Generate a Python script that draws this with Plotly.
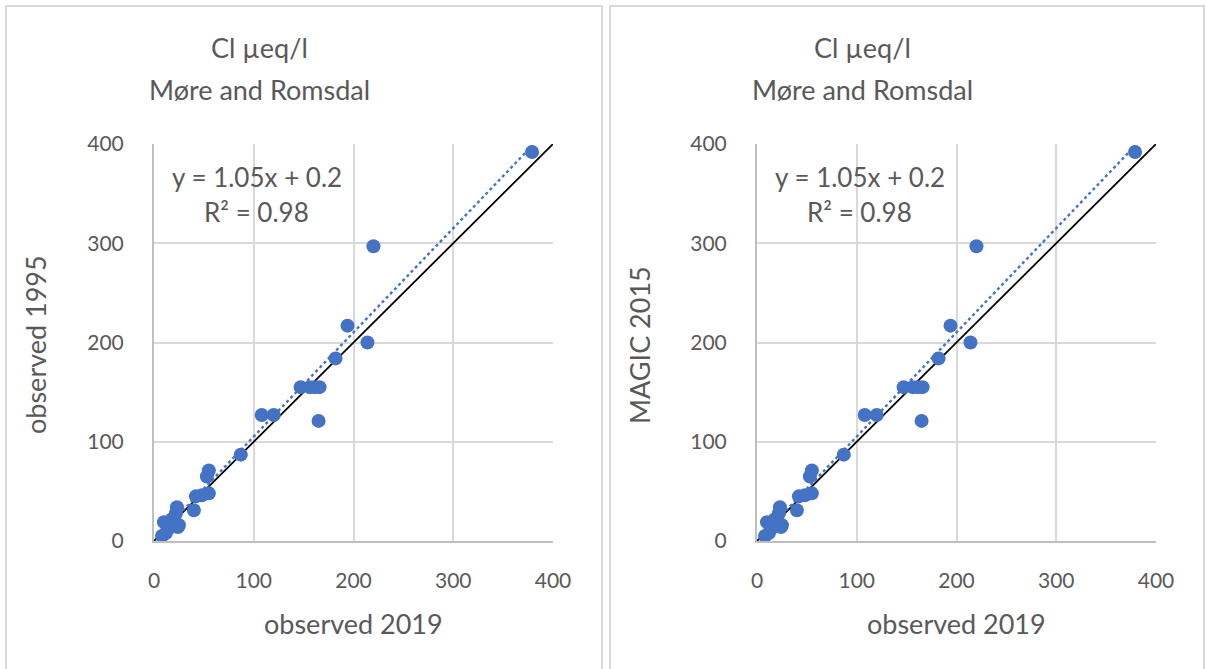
import plotly.graph_objects as go

# Cl concentrations (µeq/l), Møre and Romsdal lakes
observed_2019 = [8, 10, 12, 15, 18, 20, 22, 23, 25, 24, 40, 42, 48, 55, 53, 55,
                 87, 108, 120, 147, 156, 161, 166, 165, 182, 194, 214, 220, 379]
observed_1995 = [5, 19, 8, 13, 22, 17, 28, 34, 16, 14, 31, 45, 46, 48, 65, 71,
                 87, 127, 127, 155, 155, 155, 155, 121, 184, 217, 200, 297, 392]
magic_2015 = [5, 19, 8, 13, 22, 17, 28, 34, 16, 14, 31, 45, 46, 48, 65, 71,
              87, 127, 127, 155, 155, 155, 155, 121, 184, 217, 200, 297, 392]

# Linear trend shown on each panel
trend_slope = 1.05
trend_intercept = 0.2
r_squared = 0.98

tick_vals = [0, 100, 200, 300, 400]
title_lines = ["Cl µeq/l", "Møre and Romsdal"]
x_title = "observed 2019"
y_titles = ["observed 1995", "MAGIC 2015"]

W, H = 1206, 669
FONT = "Lato"
TXT = "#595959"
BLUE = "#4472C4"
GRID = "#d9d9d9"


def px(x):
    return x / W


def py(y):
    return 1 - y / H


fig = go.Figure()

panels = [
    dict(xa="x", ya="y", yvals=observed_1995, left=154, right=553, frame=(6, 602)),
    dict(xa="x2", ya="y2", yvals=magic_2015, left=757, right=1156, frame=(610, 1204)),
]

shapes = []
annotations = []

for i, p in enumerate(panels):
    xmin, xmax = min(observed_2019), max(observed_2019)
    # 1:1 reference line
    fig.add_trace(go.Scatter(x=[0, 400], y=[0, 400], mode="lines",
                             line=dict(color="black", width=1.8),
                             xaxis=p["xa"], yaxis=p["ya"], showlegend=False,
                             hoverinfo="skip"))
    # linear trendline
    fig.add_trace(go.Scatter(x=[xmin, xmax],
                             y=[trend_slope * xmin + trend_intercept,
                                trend_slope * xmax + trend_intercept],
                             mode="lines",
                             line=dict(color=BLUE, width=2.4, dash="dot"),
                             xaxis=p["xa"], yaxis=p["ya"], showlegend=False,
                             hoverinfo="skip"))
    # observations
    fig.add_trace(go.Scatter(x=observed_2019, y=p["yvals"], mode="markers",
                             marker=dict(color=BLUE, size=14),
                             xaxis=p["xa"], yaxis=p["ya"], showlegend=False))

    # panel frame
    f0, f1 = p["frame"]
    shapes.append(dict(type="rect", xref="paper", yref="paper",
                       x0=px(f0), x1=px(f1), y0=py(H + 10), y1=py(6),
                       line=dict(color=GRID, width=2), layer="below"))

    shift = p["left"] - 154
    # chart title
    for line_text, yy in zip(title_lines, (48, 90)):
        annotations.append(dict(x=px(259.5 + shift), y=py(yy), xref="paper", yref="paper",
                                text=line_text, showarrow=False,
                                font=dict(family=FONT, size=27, color=TXT),
                                xanchor="center", yanchor="middle"))
    # trend equation
    annotations.append(dict(x=px(256.5 + shift), y=py(177), xref="paper", yref="paper",
                            text=f"y = {trend_slope:.2f}x + {trend_intercept}",
                            showarrow=False,
                            font=dict(family=FONT, size=26, color=TXT),
                            xanchor="center", yanchor="middle"))
    annotations.append(dict(x=px(256 + shift), y=py(212), xref="paper", yref="paper",
                            text=f"R² = {r_squared:.2f}",
                            showarrow=False,
                            font=dict(family=FONT, size=26, color=TXT),
                            xanchor="center", yanchor="middle"))
    # axis titles
    annotations.append(dict(x=px(353 + shift), y=py(623), xref="paper", yref="paper",
                            text=x_title, showarrow=False,
                            font=dict(family=FONT, size=27, color=TXT),
                            xanchor="center", yanchor="middle"))
    annotations.append(dict(x=px(p["frame"][0] + 29), y=py(345), xref="paper", yref="paper",
                            text=y_titles[i], showarrow=False, textangle=-90,
                            font=dict(family=FONT, size=27, color=TXT),
                            xanchor="center", yanchor="middle"))

axis_common = dict(range=[0, 400], tickvals=tick_vals, showgrid=True,
                   gridcolor=GRID, gridwidth=2, zeroline=False,
                   showline=True, linecolor="#bfbfbf", linewidth=2,
                   ticks="", fixedrange=True, automargin=False,
                   tickfont=dict(family=FONT, size=21, color=TXT))

fig.update_layout(
    width=W, height=H, autosize=False,
    margin=dict(l=0, r=0, t=0, b=0, pad=0, autoexpand=False),
    paper_bgcolor="white", plot_bgcolor="white",
    xaxis=dict(domain=[px(154), px(553)], anchor="y", ticklabelstandoff=20, **axis_common),
    yaxis=dict(domain=[py(541), py(144)], anchor="x", ticklabelstandoff=24, **axis_common),
    xaxis2=dict(domain=[px(757), px(1156)], anchor="y2", ticklabelstandoff=20, **axis_common),
    yaxis2=dict(domain=[py(541), py(144)], anchor="x2", ticklabelstandoff=24, **axis_common),
    shapes=shapes,
    annotations=annotations,
)

fig.write_html("out.html", config={"responsive": False},
               post_script="document.body.style.margin='0';")
